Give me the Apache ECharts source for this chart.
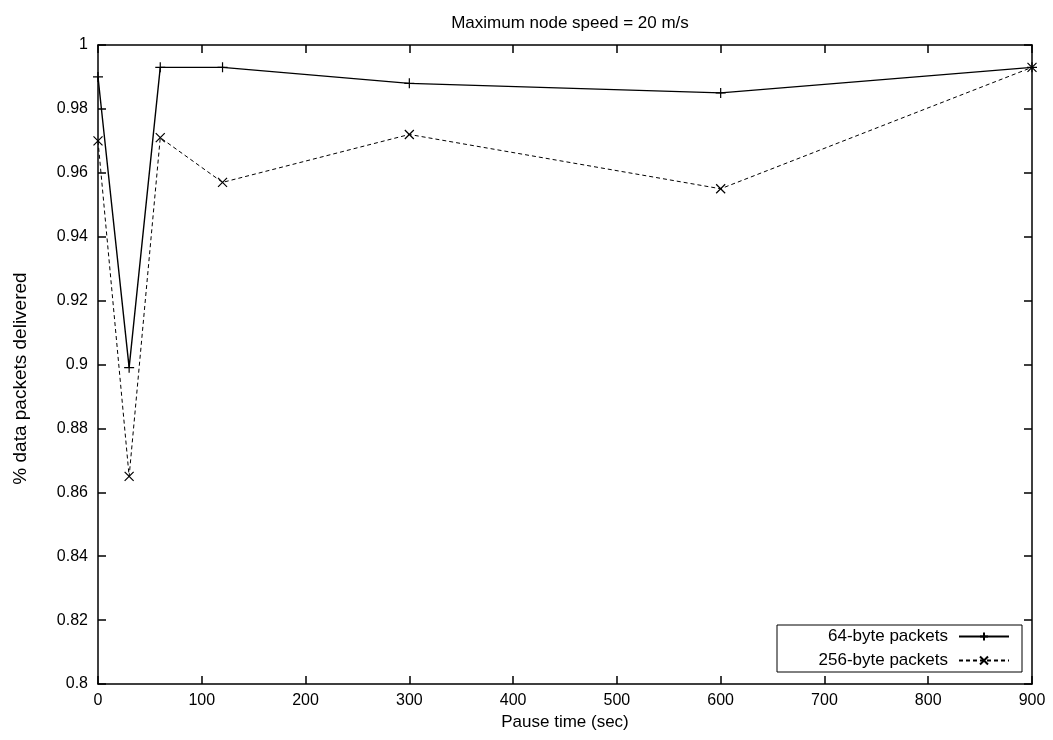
<!DOCTYPE html>
<html>
<head>
<meta charset="utf-8">
<script src="https://cdn.jsdelivr.net/npm/echarts@6/dist/echarts.min.js"></script>
<style>
html,body{margin:0;padding:0;background:#fff;}
#chart{width:1053px;height:740px;}
</style>
</head>
<body>
<div id="chart"></div>
<script>
const pauseTimes = [0, 30, 60, 120, 300, 600, 900];
const delivered64 = [0.990, 0.899, 0.993, 0.993, 0.988, 0.985, 0.993];
const delivered256 = [0.970, 0.865, 0.971, 0.957, 0.972, 0.955, 0.993];
const seriesNames = ['64-byte packets', '256-byte packets'];
const titleText = 'Maximum node speed = 20 m/s';
const xName = 'Pause time (sec)';
const yName = '% data packets delivered';

const FONT = 'Liberation Sans, Arial, sans-serif';
const plusPath = 'path://M0,5L10,5M5,0L5,10';
const crossPath = 'path://M0,0L10,10M10,0L0,10';

const chart = echarts.init(document.getElementById('chart'), null, {renderer: 'canvas'});

const axisLine = {show: true, onZero: false, lineStyle: {color: '#000', width: 1.5}};
const tickIn = {show: true, inside: true, length: 8, lineStyle: {color: '#000', width: 1.5}};
const legendText = {fontFamily: FONT, fontSize: 17, color: '#000', padding: [0, 6, 0, 0]};

chart.setOption({
  backgroundColor: '#fff',
  animation: false,
  title: {
    text: titleText,
    left: 565,
    textAlign: 'center',
    top: 10,
    textStyle: {fontFamily: FONT, fontSize: 17, fontWeight: 'normal', color: '#000'}
  },
  grid: {left: 98, right: 21, top: 45, bottom: 56, containLabel: false},
  legend: [
    {
      data: [seriesNames[0]],
      orient: 'vertical',
      align: 'right',
      right: 43,
      top: 628,
      itemWidth: 50,
      itemHeight: 10,
      padding: 0,
      textStyle: legendText
    },
    {
      data: [seriesNames[1]],
      orient: 'vertical',
      align: 'right',
      right: 43,
      top: 652,
      itemWidth: 50,
      itemHeight: 10,
      padding: 0,
      textStyle: legendText
    }
  ],
  graphic: [{
    type: 'rect',
    shape: {x: 777, y: 625, width: 245, height: 47},
    style: {fill: 'transparent', stroke: '#000', lineWidth: 1},
    z: 100
  }],
  xAxis: [
    {
      type: 'value', min: 0, max: 900, interval: 100,
      name: xName, nameLocation: 'middle', nameGap: 25,
      nameTextStyle: {fontFamily: FONT, fontSize: 17, color: '#000'},
      axisLine: axisLine, axisTick: tickIn,
      axisLabel: {fontFamily: FONT, fontSize: 16, color: '#000', margin: 9},
      splitLine: {show: false}
    },
    {
      type: 'value', min: 0, max: 900, interval: 100, position: 'top',
      axisLine: axisLine, axisTick: tickIn,
      axisLabel: {show: false}, splitLine: {show: false}
    }
  ],
  yAxis: [
    {
      type: 'value', min: 0.8, max: 1, interval: 0.02, position: 'left',
      name: yName, nameLocation: 'middle', nameGap: 68, nameRotate: 90,
      nameTextStyle: {fontFamily: FONT, fontSize: 19, color: '#000', padding: [0, 28, 0, 0]},
      axisLine: axisLine, axisTick: tickIn,
      axisLabel: {fontFamily: FONT, fontSize: 16, color: '#000', margin: 10,
        formatter: v => String(parseFloat(v.toFixed(2)))},
      splitLine: {show: false}
    },
    {
      type: 'value', min: 0.8, max: 1, interval: 0.02, position: 'right',
      axisLine: axisLine, axisTick: tickIn,
      axisLabel: {show: false}, splitLine: {show: false}
    }
  ],
  series: [
    {
      name: seriesNames[0],
      type: 'line',
      data: pauseTimes.map((x, i) => [x, delivered64[i]]),
      symbol: plusPath, symbolSize: 10, showSymbol: true, showAllSymbol: true,
      lineStyle: {color: '#000', width: 1.4, type: 'solid'},
      itemStyle: {color: '#000', borderColor: '#000', borderWidth: 1.2},
      emphasis: {disabled: true}
    },
    {
      name: seriesNames[1],
      type: 'line',
      data: pauseTimes.map((x, i) => [x, delivered256[i]]),
      symbol: crossPath, symbolSize: 9, showSymbol: true, showAllSymbol: true,
      lineStyle: {color: '#000', width: 1, type: [4, 3]},
      itemStyle: {color: '#000', borderColor: '#000', borderWidth: 1.2},
      emphasis: {disabled: true}
    }
  ]
});
</script>
</body>
</html>
